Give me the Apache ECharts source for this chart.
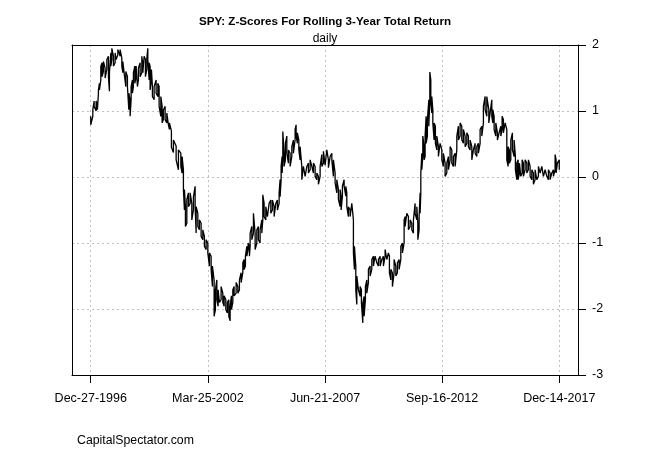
<!DOCTYPE html>
<html>
<head>
<meta charset="utf-8">
<title>SPY Z-Scores</title>
<script src="https://cdn.jsdelivr.net/npm/echarts@6/dist/echarts.min.js"></script>
<style>
html, body { margin: 0; padding: 0; background: #fff; }
#chart { width: 650px; height: 450px; }
</style>
</head>
<body>
<div id="chart"></div>
<script>
// decimal years (about one sample per 1.7 px)
var years = [
  1996.986, 1997.079, 1997.138, 1997.227, 1997.285, 1997.330, 1997.375, 1997.437, 1997.496, 1997.554,
  1997.630, 1997.706, 1997.778, 1997.822, 1997.885, 1997.930, 1998.001, 1998.077, 1998.122, 1998.198,
  1998.256, 1998.301, 1998.377, 1998.422, 1998.480, 1998.556, 1998.628, 1998.690, 1998.748, 1998.793,
  1998.851, 1998.896, 1998.959, 1999.017, 1999.075, 1999.120, 1999.196, 1999.272, 1999.317, 1999.375,
  1999.433, 1999.496, 1999.540, 1999.599, 1999.643, 1999.702, 1999.746, 1999.822, 1999.912, 1999.988,
  2000.046, 2000.122, 2000.180, 2000.239, 2000.315, 2000.391, 2000.462, 2000.507, 2000.596, 2000.686,
  2000.807, 2000.910, 2001.017, 2001.075, 2001.133, 2001.178, 2001.223, 2001.286, 2001.357, 2001.433,
  2001.509, 2001.581, 2001.657, 2001.702, 2001.778, 2001.849, 2001.925, 2002.001, 2002.073, 2002.149,
  2002.225, 2002.297, 2002.373, 2002.431, 2002.507, 2002.565, 2002.628, 2002.686, 2002.744, 2002.820,
  2002.896, 2002.955, 2003.031, 2003.102, 2003.165, 2003.223, 2003.281, 2003.344, 2003.402, 2003.492,
  2003.568, 2003.639, 2003.715, 2003.791, 2003.849, 2003.908, 2003.970, 2004.028, 2004.087, 2004.118,
  2004.194, 2004.266, 2004.342, 2004.418, 2004.489, 2004.565, 2004.641, 2004.686, 2004.744, 2004.820,
  2004.892, 2004.968, 2005.044, 2005.116, 2005.192, 2005.268, 2005.339, 2005.416, 2005.460, 2005.505,
  2005.550, 2005.581, 2005.639, 2005.697, 2005.760, 2005.832, 2005.908, 2005.984, 2006.055, 2006.131,
  2006.176, 2006.234, 2006.297, 2006.355, 2006.431, 2006.503, 2006.579, 2006.655, 2006.727, 2006.803,
  2006.879, 2006.950, 2007.026, 2007.102, 2007.174, 2007.250, 2007.326, 2007.398, 2007.474, 2007.550,
  2007.621, 2007.698, 2007.774, 2007.845, 2007.921, 2007.997, 2008.069, 2008.145, 2008.190, 2008.248,
  2008.324, 2008.400, 2008.445, 2008.516, 2008.592, 2008.668, 2008.740, 2008.785, 2008.847, 2008.892,
  2008.964, 2009.040, 2009.098, 2009.161, 2009.219, 2009.277, 2009.340, 2009.411, 2009.487, 2009.563,
  2009.635, 2009.711, 2009.787, 2009.859, 2009.935, 2010.011, 2010.082, 2010.159, 2010.235, 2010.306,
  2010.351, 2010.414, 2010.485, 2010.561, 2010.637, 2010.709, 2010.785, 2010.861, 2010.933, 2011.009,
  2011.053, 2011.129, 2011.201, 2011.277, 2011.353, 2011.425, 2011.501, 2011.577, 2011.622, 2011.680,
  2011.725, 2011.756, 2011.801, 2011.845, 2011.904, 2011.948, 2011.993, 2012.051, 2012.114, 2012.159,
  2012.203, 2012.248, 2012.293, 2012.351, 2012.409, 2012.472, 2012.543, 2012.619, 2012.696, 2012.767,
  2012.843, 2012.919, 2012.991, 2013.067, 2013.143, 2013.215, 2013.291, 2013.367, 2013.438, 2013.514,
  2013.590, 2013.662, 2013.738, 2013.814, 2013.886, 2013.962, 2014.038, 2014.109, 2014.186, 2014.262,
  2014.333, 2014.409, 2014.485, 2014.557, 2014.633, 2014.709, 2014.799, 2014.857, 2014.933, 2014.978,
  2015.036, 2015.112, 2015.183, 2015.259, 2015.336, 2015.394, 2015.452, 2015.528, 2015.604, 2015.662,
  2015.720, 2015.783, 2015.855, 2015.931, 2015.989, 2016.051, 2016.110, 2016.168, 2016.230, 2016.289,
  2016.347, 2016.423, 2016.499, 2016.570, 2016.647, 2016.723, 2016.794, 2016.870, 2016.946, 2017.018,
  2017.094, 2017.170, 2017.242, 2017.318, 2017.394, 2017.465, 2017.541, 2017.617, 2017.689, 2017.765,
  2017.810, 2017.868, 2017.951
];
// top of the daily wiggle at each sample
var zHigh = [
  0.92, 1.02, 1.15, 1.15, 1.10, 1.32, 1.42, 1.68, 1.73, 1.75,
  1.65, 1.78, 1.83, 1.58, 1.88, 1.95, 1.83, 1.88, 1.90, 1.93,
  1.95, 1.93, 1.80, 1.75, 1.73, 1.60, 1.52, 1.27, 1.17, 1.37,
  1.47, 1.58, 1.68, 1.68, 1.68, 1.65, 1.73, 1.83, 1.70, 1.83,
  1.78, 1.80, 1.95, 1.73, 1.68, 1.63, 1.37, 1.37, 1.47, 1.42,
  1.37, 1.22, 1.07, 1.02, 1.07, 0.97, 0.94, 0.82, 0.70, 0.56,
  0.47, 0.41, 0.36, 0.31, 0.11, -0.19, -0.45, -0.34, -0.24, -0.24,
  -0.40, -0.30, -0.14, -0.45, -0.55, -0.65, -0.70, -0.80, -0.90, -0.95,
  -1.00, -1.15, -1.20, -1.35, -1.56, -1.71, -1.56, -1.71, -1.71, -1.66,
  -1.76, -1.80, -1.86, -1.90, -1.86, -1.96, -1.80, -1.71, -1.66, -1.60,
  -1.66, -1.56, -1.45, -1.30, -1.25, -1.20, -1.05, -1.00, -1.05, -0.85,
  -0.75, -0.55, -0.85, -0.80, -0.75, -0.80, -0.65, -0.27, -0.40, -0.45,
  -0.45, -0.40, -0.35, -0.35, -0.45, -0.40, -0.35, -0.24, -0.04, 0.16,
  0.31, 0.69, 0.36, 0.51, 0.62, 0.41, 0.36, 0.46, 0.56, 0.72,
  0.79, 0.67, 0.56, 0.46, 0.16, 0.16, 0.16, 0.16, 0.21, 0.26,
  0.26, 0.21, 0.16, 0.06, 0.01, 0.16, 0.34, 0.39, 0.36, 0.41,
  0.26, 0.31, 0.36, 0.26, 0.06, -0.04, -0.19, -0.19, -0.29, -0.14,
  -0.04, -0.14, -0.24, -0.45, -0.50, -0.40, -0.65, -1.05, -1.35, -1.50,
  -1.50, -1.66, -1.71, -1.91, -1.81, -1.66, -1.56, -1.40, -1.35, -1.25,
  -1.20, -1.20, -1.20, -1.25, -1.20, -1.25, -1.20, -1.10, -1.10, -1.15,
  -1.20, -1.40, -1.45, -1.25, -1.35, -1.30, -1.25, -1.05, -1.00, -0.65,
  -0.60, -0.55, -0.60, -0.65, -0.70, -0.65, -0.40, -0.45, -0.70, -0.60,
  -0.24, 0.06, 0.36, 0.62, 0.46, 0.62, 0.92, 0.87, 1.17, 1.59,
  1.47, 1.22, 1.02, 0.82, 0.77, 0.62, 0.46, 0.51, 0.41, 0.36,
  0.21, 0.21, 0.31, 0.46, 0.41, 0.31, 0.36, 0.62, 0.77, 0.82,
  0.77, 0.72, 0.62, 0.67, 0.62, 0.56, 0.46, 0.41, 0.51, 0.46,
  0.51, 0.72, 0.77, 1.07, 1.22, 1.22, 1.02, 0.97, 1.17, 1.02,
  0.92, 0.82, 0.67, 0.67, 0.77, 0.92, 0.87, 0.82, 0.72, 0.46,
  0.41, 0.56, 0.67, 0.56, 0.31, 0.21, 0.26, 0.21, 0.21, 0.26,
  0.21, 0.26, 0.21, 0.26, 0.16, 0.11, 0.06, 0.11, 0.11, 0.16,
  0.19, 0.16, 0.16, 0.11, 0.11, 0.11, 0.06, 0.06, 0.11, 0.34,
  0.26, 0.21, 0.26
];
// bottom of the daily wiggle at each sample
var zLow = [
  0.79, 0.92, 1.07, 1.00, 1.02, 1.27, 1.32, 1.47, 1.52, 1.60,
  1.50, 1.63, 1.52, 1.30, 1.68, 1.78, 1.68, 1.73, 1.78, 1.85,
  1.88, 1.83, 1.68, 1.58, 1.58, 1.37, 1.37, 1.02, 0.92, 1.17,
  1.27, 1.37, 1.42, 1.52, 1.37, 1.47, 1.52, 1.58, 1.58, 1.60,
  1.52, 1.63, 1.78, 1.47, 1.32, 1.47, 1.22, 1.17, 1.27, 1.22,
  1.07, 0.92, 0.82, 0.87, 0.87, 0.82, 0.79, 0.72, 0.45, 0.37,
  0.26, 0.11, 0.16, 0.06, -0.19, -0.50, -0.75, -0.70, -0.45, -0.40,
  -0.65, -0.50, -0.45, -0.85, -0.75, -0.80, -0.90, -0.95, -1.05, -1.10,
  -1.15, -1.35, -1.40, -1.66, -2.11, -2.01, -1.86, -1.96, -1.90, -1.86,
  -1.90, -1.96, -2.01, -2.06, -2.11, -2.18, -2.01, -1.90, -1.80, -1.76,
  -1.76, -1.71, -1.60, -1.45, -1.40, -1.35, -1.20, -1.10, -1.20, -1.05,
  -0.95, -0.85, -1.10, -1.00, -0.95, -1.00, -0.85, -0.65, -0.60, -0.65,
  -0.60, -0.60, -0.55, -0.50, -0.60, -0.60, -0.50, -0.40, -0.30, -0.04,
  0.06, 0.26, 0.16, 0.26, 0.36, 0.21, 0.16, 0.31, 0.36, 0.56,
  0.62, 0.51, 0.41, 0.26, -0.04, -0.04, 0.01, 0.03, 0.06, 0.11,
  0.16, 0.06, 0.01, -0.04, -0.11, 0.01, 0.16, 0.21, 0.18, 0.16,
  0.14, 0.16, 0.26, 0.01, -0.09, -0.24, -0.34, -0.45, -0.50, -0.29,
  -0.14, -0.29, -0.45, -0.60, -0.60, -0.60, -1.15, -1.40, -1.71, -1.93,
  -1.71, -1.81, -1.91, -2.21, -2.11, -1.86, -1.76, -1.60, -1.50, -1.40,
  -1.35, -1.35, -1.30, -1.35, -1.35, -1.35, -1.35, -1.20, -1.25, -1.25,
  -1.45, -1.56, -1.66, -1.45, -1.50, -1.45, -1.40, -1.25, -1.15, -1.00,
  -0.75, -0.75, -0.80, -0.75, -0.80, -0.85, -0.55, -0.65, -0.95, -0.80,
  -0.55, -0.24, 0.11, 0.31, 0.26, 0.31, 0.51, 0.62, 0.77, 1.17,
  1.12, 0.97, 0.82, 0.56, 0.51, 0.41, 0.31, 0.31, 0.26, 0.16,
  0.01, 0.06, 0.11, 0.26, 0.21, 0.16, 0.16, 0.41, 0.56, 0.62,
  0.56, 0.51, 0.46, 0.51, 0.46, 0.41, 0.26, 0.26, 0.36, 0.31,
  0.36, 0.51, 0.62, 0.82, 1.02, 0.92, 0.82, 0.82, 0.92, 0.82,
  0.72, 0.62, 0.56, 0.53, 0.62, 0.72, 0.67, 0.67, 0.26, 0.16,
  0.21, 0.26, 0.41, 0.31, 0.11, -0.04, -0.04, 0.06, 0.01, 0.06,
  0.01, 0.11, 0.06, 0.11, 0.01, -0.04, -0.11, -0.04, -0.04, 0.01,
  0.06, 0.06, 0.01, 0.01, 0.01, -0.04, -0.04, -0.04, 0.01, 0.11,
  0.06, 0.06, 0.11
];
// x tick positions (decimal years) and their labels
var tickYears = [1996.986, 2002.227, 2007.468, 2012.708, 2017.951];
var tickLabels = ["Dec-27-1996", "Mar-25-2002", "Jun-21-2007", "Sep-16-2012", "Dec-14-2017"];

var font = "'Liberation Sans', Arial, sans-serif";

// zigzag between high and low so the line looks like the daily series
var lineData = [];
for (var i = 0; i < years.length; i++) {
  if (i % 2 === 0) {
    lineData.push([years[i], zHigh[i]], [years[i], zLow[i]]);
  } else {
    lineData.push([years[i], zLow[i]], [years[i], zHigh[i]]);
  }
}

// R pads the x range by 4% on both sides
var span = years[years.length - 1] - years[0];
var xMin = years[0] - span * 0.04;
var xMax = years[years.length - 1] + span * 0.04;

var gridLine = { show: true, lineStyle: { color: "#c0c0c0", type: [2, 3], width: 1 } };
var boxLine = { show: true, onZero: false, lineStyle: { color: "#000", width: 1 } };

var Chart = echarts.init(document.getElementById("chart"));
Chart.setOption({
  backgroundColor: "#ffffff",
  animation: false,
  title: [
    {
      text: "SPY: Z-Scores For Rolling 3-Year Total Return",
      left: "center",
      top: 11,
      textStyle: { fontFamily: font, fontSize: 11.6, fontWeight: "bold", color: "#000" }
    },
    {
      text: "daily",
      left: "center",
      top: 28,
      textStyle: { fontFamily: font, fontSize: 12, fontWeight: "normal", color: "#000" }
    },
    {
      text: "CapitalSpectator.com",
      left: 72,
      top: 430,
      textStyle: { fontFamily: font, fontSize: 12.3, fontWeight: "normal", color: "#000" }
    }
  ],
  grid: {
    left: 72,
    right: 72,
    top: 45,
    bottom: 75
  },
  xAxis: [
    {
      type: "value",
      position: "bottom",
      min: xMin,
      max: xMax,
      axisLine: boxLine,
      axisTick: {
        show: true,
        length: 8,
        customValues: tickYears,
        lineStyle: { color: "#000" }
      },
      axisLabel: {
        customValues: tickYears,
        margin: 17,
        fontFamily: font,
        fontSize: 12.5,
        color: "#000",
        formatter: function (v) {
          for (var k = 0; k < tickYears.length; k++) {
            if (Math.abs(tickYears[k] - v) < 1e-6) return tickLabels[k];
          }
          return "";
        }
      },
      splitLine: gridLine
    },
    {
      // top edge of the box only
      type: "value",
      position: "top",
      min: xMin,
      max: xMax,
      axisLine: boxLine,
      axisTick: { show: false },
      axisLabel: { show: false },
      splitLine: { show: false }
    }
  ],
  yAxis: [
    {
      type: "value",
      position: "right",
      min: -3,
      max: 2,
      interval: 1,
      axisLine: boxLine,
      axisTick: { show: true, length: 8, lineStyle: { color: "#000" } },
      axisLabel: {
        margin: 14,
        fontFamily: font,
        fontSize: 12.5,
        color: "#000"
      },
      splitLine: gridLine
    },
    {
      // left edge of the box only
      type: "value",
      position: "left",
      min: -3,
      max: 2,
      interval: 1,
      axisLine: boxLine,
      axisTick: { show: false },
      axisLabel: { show: false },
      splitLine: { show: false }
    }
  ],
  series: [
    {
      name: "z-score",
      type: "line",
      xAxisIndex: 0,
      yAxisIndex: 0,
      data: lineData,
      showSymbol: false,
      symbol: "none",
      sampling: null,
      z: 1,
      lineStyle: { color: "#000", width: 1.3 }
    }
  ]
});
</script>
</body>
</html>
